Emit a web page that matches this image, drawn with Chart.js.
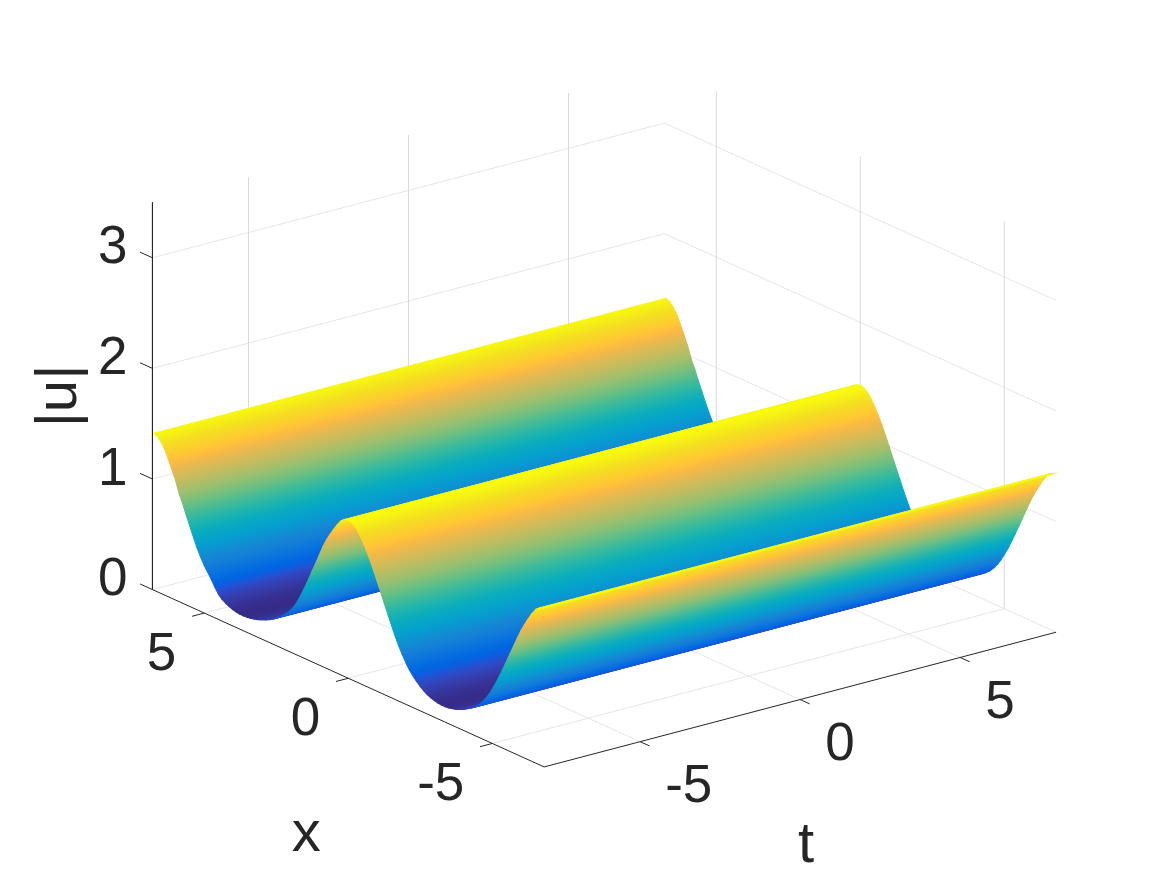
<!DOCTYPE html>
<html>
<head>
<meta charset="utf-8">
<style>html,body{margin:0;padding:0;background:#fff}canvas{display:block}</style>
<script src="https://cdn.jsdelivr.net/npm/chart.js@4/dist/chart.umd.js"></script>
</head>
<body>
<canvas id="c" width="1167" height="875"></canvas>
<script>
// Surface samples: |u| along x (the surface is constant along t)
const xSamples = [-6.75,-6.625,-6.5,-6.375,-6.25,-6.125,-6,-5.875,-5.75,-5.625,-5.5,-5.375,-5.25,-5.125,-5,-4.875,-4.75,-4.625,-4.5,-4.375,-4.25,-4.125,-4,-3.875,-3.75,-3.625,-3.5,-3.375,-3.25,-3.125,-3,-2.875,-2.75,-2.625,-2.5,-2.375,-2.25,-2.125,-2,-1.875,-1.75,-1.625,-1.5,-1.375,-1.25,-1.125,-1,-0.875,-0.75,-0.625,-0.5,-0.375,-0.25,-0.125,0,0.125,0.25,0.375,0.5,0.625,0.75,0.875,1,1.125,1.25,1.375,1.5,1.625,1.75,1.875,2,2.125,2.25,2.375,2.5,2.625,2.75,2.875,3,3.125,3.25,3.375,3.5,3.625,3.75,3.875,4,4.125,4.25,4.375,4.5,4.625,4.75,4.875,5,5.125,5.25,5.375,5.5,5.625,5.75,5.875,6,6.125,6.25,6.375,6.5,6.625,6.75];
const uSamples = [1.43,1.415,1.385,1.335,1.275,1.21,1.14,1.06,0.975,0.89,0.805,0.72,0.64,0.56,0.49,0.425,0.37,0.325,0.285,0.255,0.23,0.21,0.19,0.175,0.162,0.152,0.145,0.14,0.14,0.143,0.15,0.16,0.175,0.195,0.22,0.25,0.285,0.325,0.375,0.435,0.50,0.575,0.655,0.74,0.825,0.91,0.995,1.08,1.16,1.23,1.295,1.35,1.395,1.42,1.43,1.42,1.395,1.345,1.29,1.23,1.165,1.09,1.0,0.91,0.825,0.735,0.65,0.57,0.495,0.43,0.38,0.34,0.305,0.275,0.25,0.225,0.205,0.188,0.175,0.162,0.152,0.145,0.138,0.135,0.135,0.14,0.148,0.16,0.175,0.195,0.225,0.275,0.33,0.38,0.43,0.49,0.56,0.64,0.725,0.81,0.90,0.98,1.085,1.165,1.245,1.32,1.37,1.405,1.42];
const tEnds = [-8, 8];
const xTicks = [5, 0, -5];
const tTicks = [-5, 0, 5];
const zTicks = [0, 1, 2, 3];
const xLimits = [-6.8, 6.8];
const tLimits = [-8, 8];
const zLimits = [0, 3.5];
const xLabel = 'x', tLabel = 't', zLabel = '|u|';
const parula = [[.2081,.1663,.5292],[.2116,.1898,.5777],[.2123,.2138,.6270],[.2081,.2386,.6771],[.1959,.2645,.7279],[.1707,.2919,.7792],[.1253,.3242,.8303],[.0591,.3598,.8683],[.0117,.3875,.8820],[.0060,.4086,.8828],[.0165,.4266,.8786],[.0329,.4430,.8720],[.0498,.4586,.8641],[.0629,.4737,.8554],[.0723,.4887,.8467],[.0779,.5040,.8384],[.0793,.5200,.8312],[.0749,.5375,.8263],[.0641,.5570,.8240],[.0488,.5772,.8228],[.0343,.5966,.8199],[.0265,.6137,.8135],[.0239,.6287,.8038],[.0231,.6418,.7913],[.0228,.6535,.7768],[.0267,.6642,.7607],[.0384,.6743,.7436],[.0590,.6838,.7254],[.0843,.6928,.7062],[.1133,.7015,.6859],[.1453,.7098,.6646],[.1801,.7177,.6424],[.2178,.7250,.6193],[.2586,.7317,.5954],[.3022,.7376,.5712],[.3482,.7424,.5473],[.3953,.7459,.5244],[.4420,.7481,.5033],[.4871,.7491,.4840],[.5300,.7491,.4661],[.5709,.7485,.4494],[.6099,.7473,.4337],[.6473,.7456,.4188],[.6834,.7435,.4044],[.7184,.7411,.3905],[.7525,.7384,.3768],[.7858,.7356,.3633],[.8185,.7327,.3498],[.8507,.7299,.3360],[.8824,.7274,.3217],[.9139,.7258,.3063],[.9450,.7261,.2886],[.9739,.7314,.2666],[.9938,.7455,.2403],[.9990,.7653,.2164],[.9955,.7861,.1967],[.9880,.8066,.1794],[.9789,.8271,.1633],[.9697,.8481,.1475],[.9626,.8705,.1309],[.9589,.8949,.1132],[.9598,.9218,.0948],[.9661,.9514,.0755],[.9763,.9831,.0538]];

// Orthographic view of the 3-D box onto the chart's plane
const view = {ox: 604.3, oy: 610.9, tx: 32, ty: -8.42, xx: -28.8, xy: -13.04, zy: -110.6};
function proj(x, t, z) {
  return {x: view.ox + view.tx * t + view.xx * x, y: view.oy + view.ty * t + view.xy * x + view.zy * z};
}
const uMin = Math.min(...uSamples), uMax = Math.max(...uSamples);
function colour(u) {
  const f = Math.max(0, Math.min(1, (u - uMin) / (uMax - uMin))) * (parula.length - 1);
  const i = Math.min(parula.length - 2, Math.floor(f)), w = f - i;
  const c = parula[i].map((v, k) => Math.round(255 * (v + (parula[i + 1][k] - v) * w)));
  return `rgb(${c[0]},${c[1]},${c[2]})`;
}
const canvas = document.getElementById('c');
const ctx2d = canvas.getContext('2d');
const tLen = Math.hypot(view.tx, view.ty);
const nrm = {x: -view.ty / tLen, y: view.tx / tLen};
function stripPaint(i) {
  const a = proj(xSamples[i], tEnds[0], uSamples[i]), b = proj(xSamples[i + 1], tEnds[0], uSamples[i + 1]);
  const d = (b.x - a.x) * nrm.x + (b.y - a.y) * nrm.y;
  if (Math.abs(d) < 0.25) return colour((uSamples[i] + uSamples[i + 1]) / 2);
  const g = ctx2d.createLinearGradient(a.x, a.y, a.x + nrm.x * d, a.y + nrm.y * d);
  const n = 4;
  for (let k = 0; k <= n; k++) g.addColorStop(k / n, colour(uSamples[i] + (uSamples[i + 1] - uSamples[i]) * k / n));
  return g;
}
const datasets = [];
function line(points, color, width) {
  datasets.push({data: points, showLine: true, borderColor: color, borderWidth: width, pointRadius: 0, fill: false, tension: 0});
}
const gridV = '#d9d9d9', gridS = '#e6e6e6', axisC = '#262626';
// back walls and floor grid
for (const z of zTicks) {
  line([proj(xLimits[1], tLimits[0], z), proj(xLimits[1], tLimits[1], z), proj(xLimits[0], tLimits[1], z)], gridS, 1);
}
for (const t of tTicks) {
  line([proj(xLimits[0], t, 0), proj(xLimits[1], t, 0)], gridS, 1);
  line([proj(xLimits[1], t, 0), proj(xLimits[1], t, zLimits[1])], gridV, 1);
}
for (const x of xTicks) {
  line([proj(x, tLimits[0], 0), proj(x, tLimits[1], 0)], gridS, 1);
  line([proj(x, tLimits[1], 0), proj(x, tLimits[1], zLimits[1])], gridV, 1);
}
// axes and tick marks
line([proj(xLimits[1], tLimits[0], zLimits[1]), proj(xLimits[1], tLimits[0], 0), proj(xLimits[0], tLimits[0], 0), proj(xLimits[0], tLimits[1], 0)], axisC, 1);
for (const z of zTicks) line([proj(xLimits[1], tLimits[0], z), proj(xLimits[1] + 0.43, tLimits[0], z)], axisC, 1);
for (const x of xTicks) line([proj(x, tLimits[0], 0), proj(x, tLimits[0] - 0.385, 0)], axisC, 1);
for (const t of tTicks) line([proj(xLimits[0], t, 0), proj(xLimits[0] - 0.33, t, 0)], axisC, 1);
// surface strips, far (x large) to near (x small)
for (let i = xSamples.length - 2; i >= 0; i--) {
  const p = stripPaint(i);
  const a = proj(xSamples[i], tEnds[0], uSamples[i]), b = proj(xSamples[i], tEnds[1], uSamples[i]);
  const c = proj(xSamples[i + 1], tEnds[1], uSamples[i + 1]), d = proj(xSamples[i + 1], tEnds[0], uSamples[i + 1]);
  datasets.push({data: [a, b, c, d, a], showLine: true, fill: 'shape', backgroundColor: p, borderColor: p, borderWidth: 1.1, pointRadius: 0, tension: 0});
}
datasets.forEach((d, i) => { d.order = datasets.length - i; });

const textColor = '#262626';
const labelPlugin = {
  id: 'boxLabels',
  afterDraw(chart) {
    const ctx = chart.ctx, sx = chart.scales.x, sy = chart.scales.y;
    const px = p => ({x: sx.getPixelForValue(p.x), y: sy.getPixelForValue(p.y)});
    ctx.save();
    ctx.fillStyle = textColor;
    ctx.textBaseline = 'middle';
    ctx.font = '53px "Liberation Sans"';
    ctx.textAlign = 'right';
    for (const z of zTicks) { const p = px(proj(xLimits[1], tLimits[0], z)); ctx.fillText(String(z), p.x - 25, p.y - 9); }
    for (const x of xTicks) { const p = px(proj(x, tLimits[0], 0)); ctx.fillText(String(x), p.x - 28, p.y + 42); }
    ctx.textAlign = 'left';
    for (const t of tTicks) { const p = px(proj(xLimits[0], t, 0)); ctx.fillText(String(t), p.x + 25, p.y + 46); }
    ctx.textAlign = 'center';
    ctx.font = '58px "Liberation Sans"';
    let p = px(proj(0, tLimits[0], 0)); ctx.fillText(xLabel, p.x - 42, p.y + 157);
    p = px(proj(xLimits[0], 0, 0)); ctx.fillText(tLabel, p.x + 6, p.y + 146);
    ctx.translate(60, 396); ctx.rotate(-Math.PI / 2); ctx.fillText(zLabel, 0, 0);
    ctx.restore();
  }
};
new Chart(canvas, {
  type: 'scatter',
  data: {datasets},
  plugins: [labelPlugin],
  options: {
    responsive: false,
    animation: false,
    events: [],
    layout: {padding: 0},
    plugins: {legend: {display: false}, tooltip: {enabled: false}, title: {display: false}},
    scales: {
      x: {type: 'linear', min: 0, max: 1167, display: false},
      y: {type: 'linear', min: 0, max: 875, reverse: true, display: false}
    }
  }
});
</script>
</body>
</html>
